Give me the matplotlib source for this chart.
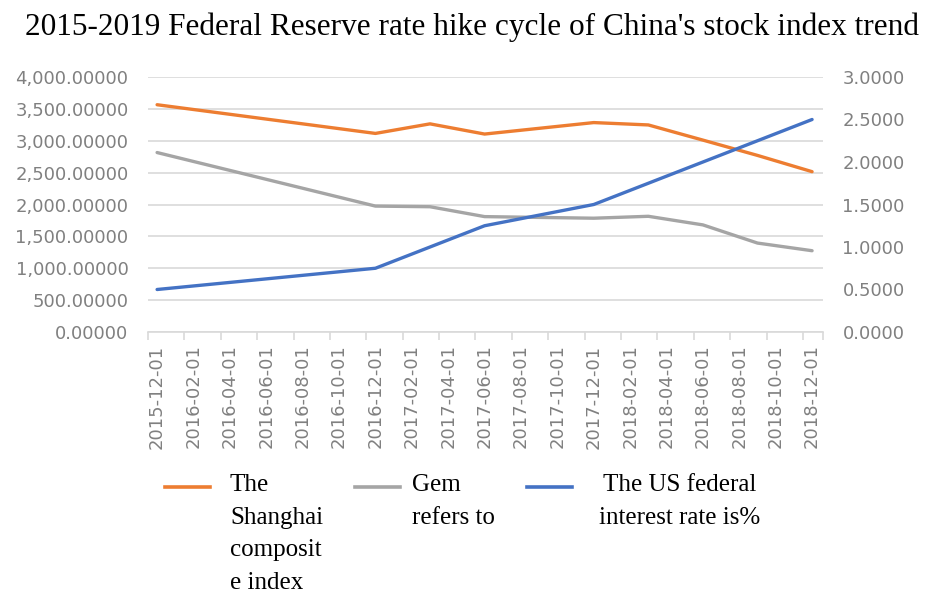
import numpy as np
import pandas as pd
import matplotlib
matplotlib.use("Agg")
import matplotlib.pyplot as plt
from matplotlib.lines import Line2D
from matplotlib.ticker import FuncFormatter, FixedLocator

# Datos
fechas = ['2015-12-01', '2016-12-01', '2017-03-01', '2017-06-01', '2017-12-01',
          '2018-03-01', '2018-06-01', '2018-09-01', '2018-12-01']
shanghai = [3565, 3115, 3265, 3105, 3285, 3248, 3010, 2770, 2515]
gem = [2815, 1975, 1965, 1810, 1785, 1815, 1680, 1395, 1275]
fed = [0.50, 0.75, 1.00, 1.25, 1.50, 1.75, 2.00, 2.25, 2.50]

etiquetas = pd.date_range('2015-12-01', '2018-12-01', freq='2MS').strftime('%Y-%m-%d').tolist()

nombres = ["The\nShanghai\ncomposit\ne index", "Gem\nrefers to", "The US federal\ninterest rate is%"]
colores = ['#ED7D31', '#A5A5A5', '#4472C4']

def mes(s):
    d = pd.Timestamp(s)
    return (d.year - 2015) * 12 + d.month - 12

x = [mes(f) for f in fechas]
xt = [mes(f) for f in etiquetas]

gris = '#808080'
linea_grid = '#d9d9d9'

fig = plt.figure(figsize=(9.25, 6.04), dpi=100)
ax = fig.add_axes([148/925, 1-332/604, (823-148)/925, (332-77)/604])
ax2 = ax.twinx()

ax.plot(x, shanghai, color=colores[0], lw=2.4, solid_capstyle='round')
ax.plot(x, gem, color=colores[1], lw=2.4, solid_capstyle='round')
ax2.plot(x, fed, color=colores[2], lw=2.4, solid_capstyle='round')

ax.set_xlim(-0.5, 36.6)
ax.set_ylim(0, 4000)
ax2.set_ylim(0, 3)
ax.set_yticks(np.arange(0, 4001, 500))
ax2.set_yticks(np.arange(0, 3.01, 0.5))
ax.yaxis.set_major_formatter(FuncFormatter(lambda v, p: f"{v:,.5f}"))
ax2.yaxis.set_major_formatter(FuncFormatter(lambda v, p: f"{v:.4f}"))
ax.grid(axis='y', color=linea_grid, lw=1.2)
ax.set_axisbelow(True)

ax.set_xticks(xt)
ax.set_xticklabels(etiquetas, rotation=90)
ax.xaxis.set_minor_locator(FixedLocator([t - 0.5 for t in xt] + [36.6]))
ax.tick_params(axis='x', which='major', length=0, pad=9, labelsize=13, labelcolor=gris)
ax.tick_params(axis='x', which='minor', length=6, color=linea_grid, width=1.2)
ax.tick_params(axis='y', length=0, pad=14, labelsize=13, labelcolor=gris)
ax2.tick_params(axis='y', length=0, pad=14, labelsize=13, labelcolor=gris)

for a in (ax, ax2):
    for s in ('top', 'left', 'right'):
        a.spines[s].set_visible(False)
    a.spines['bottom'].set_color(linea_grid)
    a.spines['bottom'].set_linewidth(1.2)
ax2.spines['bottom'].set_visible(False)

fig.text(472/925, 1-27/604, "2015-2019 Federal Reserve rate hike cycle of China's stock index trend",
         ha='center', va='center', fontsize=22.5, family='Liberation Serif')

# leyenda manual
pos_linea = [165, 355, 527]
pos_texto = [230, 412, 595]
alin = ['left', 'left', 'center']
for i in range(3):
    fig.add_artist(Line2D([pos_linea[i]/925, (pos_linea[i]+45)/925], [1-487/604, 1-487/604],
                          color=colores[i], lw=2.6, transform=fig.transFigure))
    tx = pos_texto[i] if alin[i] == 'left' else pos_texto[i] + 85
    fig.text(tx/925, 1-474/604, nombres[i], ha=alin[i], va='top', multialignment=alin[i],
             fontsize=18, family='Liberation Serif', linespacing=1.62)

fig.savefig("out.png", dpi=100)
